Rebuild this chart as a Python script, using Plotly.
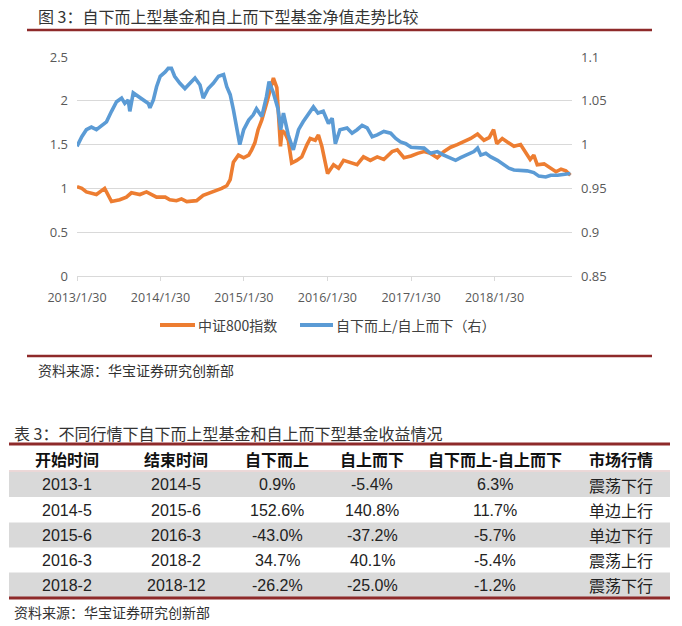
import plotly.graph_objects as go

W, H = 682, 626

# ---------------- chart data ----------------
csi_dates = [
    "2013-01-30", "2013-02-20", "2013-03-12", "2013-04-25", "2013-05-31", "2013-06-30",
    "2013-08-05", "2013-09-03", "2013-09-25", "2013-11-01", "2013-11-30", "2014-01-13",
    "2014-02-20", "2014-03-12", "2014-04-10", "2014-05-02", "2014-05-25", "2014-07-07",
    "2014-08-05", "2014-09-03", "2014-10-02", "2014-10-25", "2014-11-16", "2014-12-01",
    "2014-12-15", "2015-01-06", "2015-01-29", "2015-02-20", "2015-03-05", "2015-03-19",
    "2015-04-02", "2015-04-18", "2015-05-09", "2015-06-08", "2015-06-23", "2015-07-02",
    "2015-07-09", "2015-07-16", "2015-07-29", "2015-08-12", "2015-08-27", "2015-09-18",
    "2015-10-10", "2015-11-02", "2015-11-16", "2015-12-08", "2015-12-22", "2016-01-06",
    "2016-01-20", "2016-01-31", "2016-02-26", "2016-03-19", "2016-04-10", "2016-05-10",
    "2016-06-08", "2016-07-06", "2016-08-05", "2016-09-04", "2016-10-03", "2016-11-08",
    "2016-12-01", "2016-12-30", "2017-01-30", "2017-02-28", "2017-03-28", "2017-04-25",
    "2017-05-25", "2017-06-22", "2017-07-22", "2017-08-20", "2017-09-19", "2017-10-18",
    "2017-11-17", "2017-12-01", "2017-12-15", "2018-01-07", "2018-01-26", "2018-02-09",
    "2018-03-05", "2018-03-27", "2018-04-25", "2018-05-24", "2018-06-15", "2018-07-05",
    "2018-07-21", "2018-08-05", "2018-09-04", "2018-10-03", "2018-10-26", "2018-11-17",
    "2018-12-08", "2018-12-28",
]
csi_vals = [
    1.02, 1.00, 0.96, 0.93, 1.00, 0.85,
    0.87, 0.90, 0.95, 0.93, 0.96, 0.90,
    0.90, 0.87, 0.86, 0.88, 0.85, 0.86,
    0.92, 0.95, 0.97, 1.00, 1.03, 1.10,
    1.30, 1.38, 1.35, 1.38, 1.44, 1.52,
    1.67, 1.78, 1.97, 2.26, 2.15, 1.70,
    1.48, 1.66, 1.63, 1.55, 1.29, 1.32,
    1.36, 1.50, 1.57, 1.55, 1.61, 1.48,
    1.29, 1.17, 1.27, 1.23, 1.32, 1.29,
    1.27, 1.36, 1.32, 1.36, 1.33, 1.42,
    1.44, 1.35, 1.37, 1.40, 1.42, 1.40,
    1.35, 1.42, 1.47, 1.50, 1.53, 1.57,
    1.62, 1.58, 1.55, 1.58, 1.67, 1.51,
    1.57, 1.53, 1.48, 1.50, 1.42, 1.33,
    1.38, 1.27, 1.28, 1.23, 1.19, 1.22,
    1.20, 1.15,
]

ratio_dates = [
    "2013-01-30", "2013-02-20", "2013-03-12", "2013-04-03", "2013-04-25", "2013-05-17",
    "2013-06-08", "2013-06-30", "2013-07-22", "2013-08-13", "2013-08-27", "2013-09-11",
    "2013-09-18", "2013-10-03", "2013-10-24", "2013-11-16", "2013-12-08", "2013-12-15",
    "2013-12-30", "2014-01-13", "2014-01-29", "2014-02-20", "2014-03-05", "2014-03-19",
    "2014-04-02", "2014-04-25", "2014-05-17", "2014-06-08", "2014-06-30", "2014-07-22",
    "2014-08-05", "2014-08-27", "2014-09-18", "2014-10-11", "2014-11-02", "2014-11-16",
    "2014-12-01", "2014-12-15", "2014-12-30", "2015-01-12", "2015-01-29", "2015-02-20",
    "2015-03-12", "2015-03-26", "2015-04-18", "2015-05-09", "2015-05-20", "2015-06-08",
    "2015-06-28", "2015-07-10", "2015-07-22", "2015-08-12", "2015-09-03", "2015-09-26",
    "2015-10-16", "2015-11-07", "2015-11-30", "2015-12-20", "2016-01-12", "2016-02-04",
    "2016-02-20", "2016-03-05", "2016-03-25", "2016-04-25", "2016-05-17", "2016-06-08",
    "2016-06-30", "2016-07-22", "2016-08-13", "2016-09-04", "2016-10-03", "2016-11-02",
    "2016-11-24", "2016-12-15", "2017-01-07", "2017-01-30", "2017-02-28", "2017-03-28",
    "2017-04-25", "2017-05-25", "2017-06-22", "2017-07-22", "2017-08-13", "2017-09-04",
    "2017-10-03", "2017-11-01", "2017-11-17", "2017-12-01", "2017-12-23", "2018-01-14",
    "2018-02-12", "2018-03-12", "2018-04-03", "2018-04-25", "2018-05-24", "2018-06-22",
    "2018-07-21", "2018-08-12", "2018-09-11", "2018-10-03", "2018-11-02", "2018-12-01",
    "2018-12-28",
]
ratio_vals = [
    0.998, 1.009, 1.017, 1.020, 1.017, 1.022,
    1.026, 1.038, 1.049, 1.053, 1.047, 1.051,
    1.038, 1.059, 1.055, 1.051, 1.047, 1.042,
    1.051, 1.066, 1.078, 1.083, 1.087, 1.087,
    1.078, 1.070, 1.064, 1.070, 1.076, 1.068,
    1.053, 1.064, 1.070, 1.078, 1.080, 1.066,
    1.057, 1.040, 1.017, 1.000, 1.017, 1.028,
    1.034, 1.041, 1.032, 1.055, 1.072, 1.059,
    1.041, 1.017, 1.036, 1.011, 0.994, 1.017,
    1.026, 1.034, 1.043, 1.036, 1.038, 1.024,
    1.030, 1.001, 1.017, 1.019, 1.013, 1.017,
    1.022, 1.019, 1.009, 1.011, 1.015, 1.013,
    1.007, 1.003, 1.001, 0.997, 0.996, 0.996,
    0.990, 0.992, 0.988, 0.984, 0.982, 0.985,
    0.988, 0.992, 0.996, 0.988, 0.990, 0.986,
    0.982, 0.977, 0.973, 0.971, 0.971, 0.970,
    0.968, 0.964, 0.963, 0.965, 0.965, 0.966,
    0.967,
]

x_tick_dates = ["2013-01-30", "2014-01-30", "2015-01-30", "2016-01-30", "2017-01-30", "2018-01-30"]
x_tick_labels = ["2013/1/30", "2014/1/30", "2015/1/30", "2016/1/30", "2017/1/30", "2018/1/30"]

chart_title = "图 3：自下而上型基金和自上而下型基金净值走势比较"
series_names = ["中证800指数", "自下而上/自上而下（右）"]
source_text = "资料来源：华宝证券研究创新部"

# ---------------- table data ----------------
table_title = "表 3：不同行情下自下而上型基金和自上而下型基金收益情况"
table_header = ["开始时间", "结束时间", "自下而上", "自上而下", "自下而上-自上而下", "市场行情"]
start_times = ["2013-1", "2014-5", "2015-6", "2016-3", "2018-2"]
end_times = ["2014-5", "2015-6", "2016-3", "2018-2", "2018-12"]
bottom_up_ret = [0.9, 152.6, -43.0, 34.7, -26.2]
top_down_ret = [-5.4, 140.8, -37.2, 40.1, -25.0]
diff_ret = [6.3, 11.7, -5.7, -5.4, -1.2]
market_state = ["震荡下行", "单边上行", "单边下行", "震荡上行", "震荡下行"]

# ---------------- styles ----------------
ORANGE = "#ED7D31"
BLUE = "#5B9BD5"
RED = "#8E2A2A"
GRID = "#D9D9D9"
TICK = "#595959"
CJK = "Noto Sans CJK SC"
NUM = "Open Sans"


def px(x):
    return x / W


def py(y):
    return 1 - y / H


fig = go.Figure()
fig.add_trace(go.Scatter(x=csi_dates, y=csi_vals, name=series_names[0], mode="lines",
                         line=dict(color=ORANGE, width=3.6), yaxis="y", showlegend=False))
fig.add_trace(go.Scatter(x=ratio_dates, y=ratio_vals, name=series_names[1], mode="lines",
                         line=dict(color=BLUE, width=3.6), yaxis="y2", showlegend=False))

fig.update_layout(
    width=W, height=H, autosize=False,
    margin=dict(l=0, r=0, t=0, b=0, pad=0),
    paper_bgcolor="white", plot_bgcolor="white",
    showlegend=False,
    xaxis=dict(
        type="date", domain=[px(77), px(572)],
        range=["2013-01-30", "2019-01-04"],
        tickvals=x_tick_dates, ticktext=x_tick_labels,
        showgrid=False, zeroline=False,
        showline=True, linecolor=GRID, linewidth=1,
        ticks="outside", ticklen=4, tickcolor=GRID,
        tickfont=dict(family=NUM, size=12.5, color=TICK),
        ticklabelstandoff=6,
        anchor="y", automargin=False,
    ),
    yaxis=dict(
        domain=[py(276), py(57)], range=[0, 2.5], dtick=0.5,
        showgrid=True, gridcolor=GRID, gridwidth=1, zeroline=False,
        showline=False, ticks="",
        tickfont=dict(family=NUM, size=13, color=TICK),
        ticklabelstandoff=8, automargin=False,
    ),
    yaxis2=dict(
        overlaying="y", side="right", range=[0.85, 1.1], dtick=0.05,
        showgrid=False, zeroline=False, showline=False, ticks="",
        tickfont=dict(family=NUM, size=13, color=TICK),
        ticklabelstandoff=8, automargin=False,
        anchor="x",
    ),
)

shapes = []
annotations = []


def hline(x0, x1, y, color, width):
    shapes.append(dict(type="line", xref="paper", yref="paper",
                       x0=px(x0), x1=px(x1), y0=py(y), y1=py(y),
                       line=dict(color=color, width=width)))


def rect(x0, x1, y0, y1, color):
    shapes.append(dict(type="rect", xref="paper", yref="paper",
                       x0=px(x0), x1=px(x1), y0=py(y1), y1=py(y0),
                       fillcolor=color, line=dict(width=0), layer="below"))


def text(x, y, s, size, color="#222222", family=CJK, anchor="left", bold=False):
    annotations.append(dict(xref="paper", yref="paper", x=px(x), y=py(y),
                            text=("<b>%s</b>" % s) if bold else s, showarrow=False,
                            xanchor=anchor, yanchor="middle",
                            font=dict(family=family, size=size, color=color)))


# chart title and rules
text(36, 16, chart_title, 16, color="#333333")
hline(27, 652, 30, RED, 2.6)

# legend
hline(160, 195, 325, ORANGE, 4)
text(196, 325, series_names[0], 14, color="#404040")
hline(300, 333, 325, BLUE, 4)
text(334, 325, series_names[1], 14, color="#404040")

hline(27, 652, 356, RED, 2.6)
text(36, 370, source_text, 14, color="#333333")

# table
text(12, 433, table_title, 16, color="#333333")
hline(9, 670, 444, RED, 3)
hline(9, 670, 471, "#D8B0B0", 1)

row_centers = [484.5, 510, 535, 560, 585]
col_centers = [67, 176, 277, 372, 495, 621]
for i, yc in enumerate(row_centers):
    if i % 2 == 0:
        rect(9, 670, yc - 12.5, yc + 12.5, "#D9D9D9")
hline(9, 670, 598, RED, 3)

for c, h in zip(col_centers, table_header):
    text(c, 459, h, 16, color="#111111", anchor="center", bold=True)

for i, yc in enumerate(row_centers):
    cells = [start_times[i], end_times[i],
             "%.1f%%" % bottom_up_ret[i], "%.1f%%" % top_down_ret[i], "%.1f%%" % diff_ret[i]]
    for c, s in zip(col_centers[:5], cells):
        text(c, yc, s, 16, color="#222222", family="Liberation Sans", anchor="center")
    text(col_centers[5], yc, market_state[i], 16, color="#222222", anchor="center")

text(12, 612, source_text, 14, color="#333333")

fig.update_layout(shapes=shapes, annotations=annotations)

fig.write_html("out.html", config={"displayModeBar": False, "responsive": False},
               post_script="document.body.style.margin='0';document.body.style.overflow='hidden';")
